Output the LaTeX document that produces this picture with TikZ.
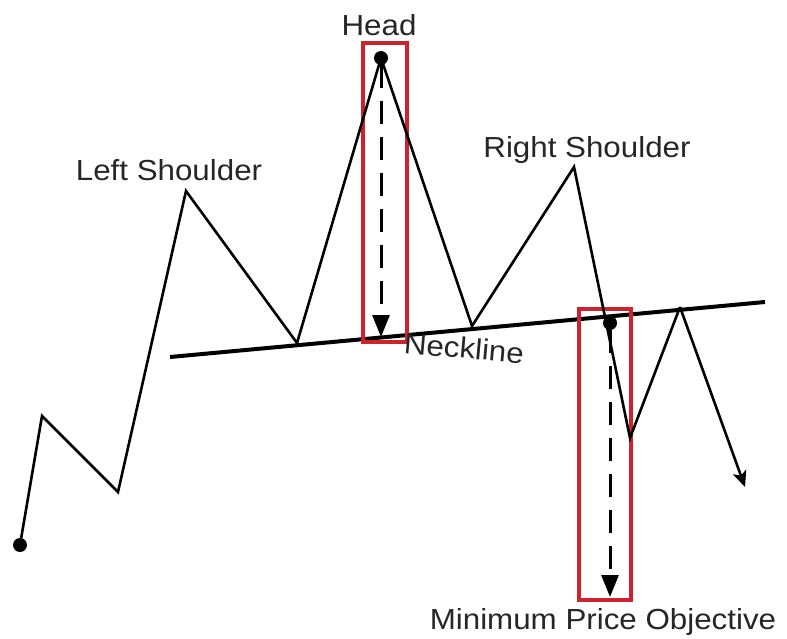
\documentclass[tikz,border=0pt]{standalone}
\usepackage{fontspec}
\setmainfont[FakeStretch=1.08]{Liberation Sans}
\usetikzlibrary{arrows.meta}
\definecolor{boxred}{RGB}{205,35,45}
\tikzset{
  price/.style={line width=2.6pt, line join=miter, black},
  neck/.style={line width=4pt, black},
  redbox/.style={draw=boxred, line width=4pt},
  target/.style={line width=3pt, dash pattern=on 23pt off 13pt, -{Triangle[width=17pt,length=22pt]}},
  dotpt/.style={circle, fill=black, inner sep=0pt, minimum size=14pt},
  lbl/.style={font=\fontsize{29}{32}\selectfont, text=black!85, inner sep=0pt}
}
\begin{document}
\begin{tikzpicture}[x=1pt,y=-1pt]
\useasboundingbox (0,0) rectangle (787,639);
% neckline
\coordinate (nl1) at (170,357);
\coordinate (nl2) at (765,302);
\draw[neck] (nl1) -- (nl2);
% red boxes
\draw[redbox] (363,43) rectangle (407,342);
\draw[redbox] (579,309) rectangle (631,600);
% price path points
\coordinate (p0) at (20,545);
\coordinate (p1) at (42,416);
\coordinate (p2) at (118,492);
\coordinate (p3) at (186,191);
\coordinate (p4) at (297,343);
\coordinate (p5) at (381,58);
\coordinate (p6) at (472,326);
\coordinate (p7) at (574,167);
\coordinate (p8) at (630,438);
\coordinate (p9) at (680,307);
\coordinate (p10) at (745,487);
\draw[price] (p0) -- (p1) -- (p2) -- (p3) -- (p4) -- (p5) -- (p6) -- (p7) -- (p8) -- (p9);
\draw[price, -{Stealth[width=14pt,length=16pt,inset=4pt]}] (p9) -- (p10);
% dots
\node[dotpt] (d0) at (p0) {};
\node[dotpt] (d5) at (p5) {};
\node[dotpt] (d8) at (610,323) {};
% target arrows
\coordinate (hEnd) at (381,337);
\coordinate (mEnd) at (610,597);
\draw[target] (d5) -- (hEnd);
\draw[target] (d8) -- (mEnd);
% labels
\node[lbl] (head) at (379,25) {Head};
\node[lbl] (ls) at (169,170) {Left Shoulder};
\node[lbl] (rs) at (587,150) {Right Shoulder};
\node[lbl, rotate=-5] (nk) at (464,348) {Neckline};
\node[lbl] (mpo) at (603,622) {Minimum Price Objective};
\end{tikzpicture}
\end{document}
